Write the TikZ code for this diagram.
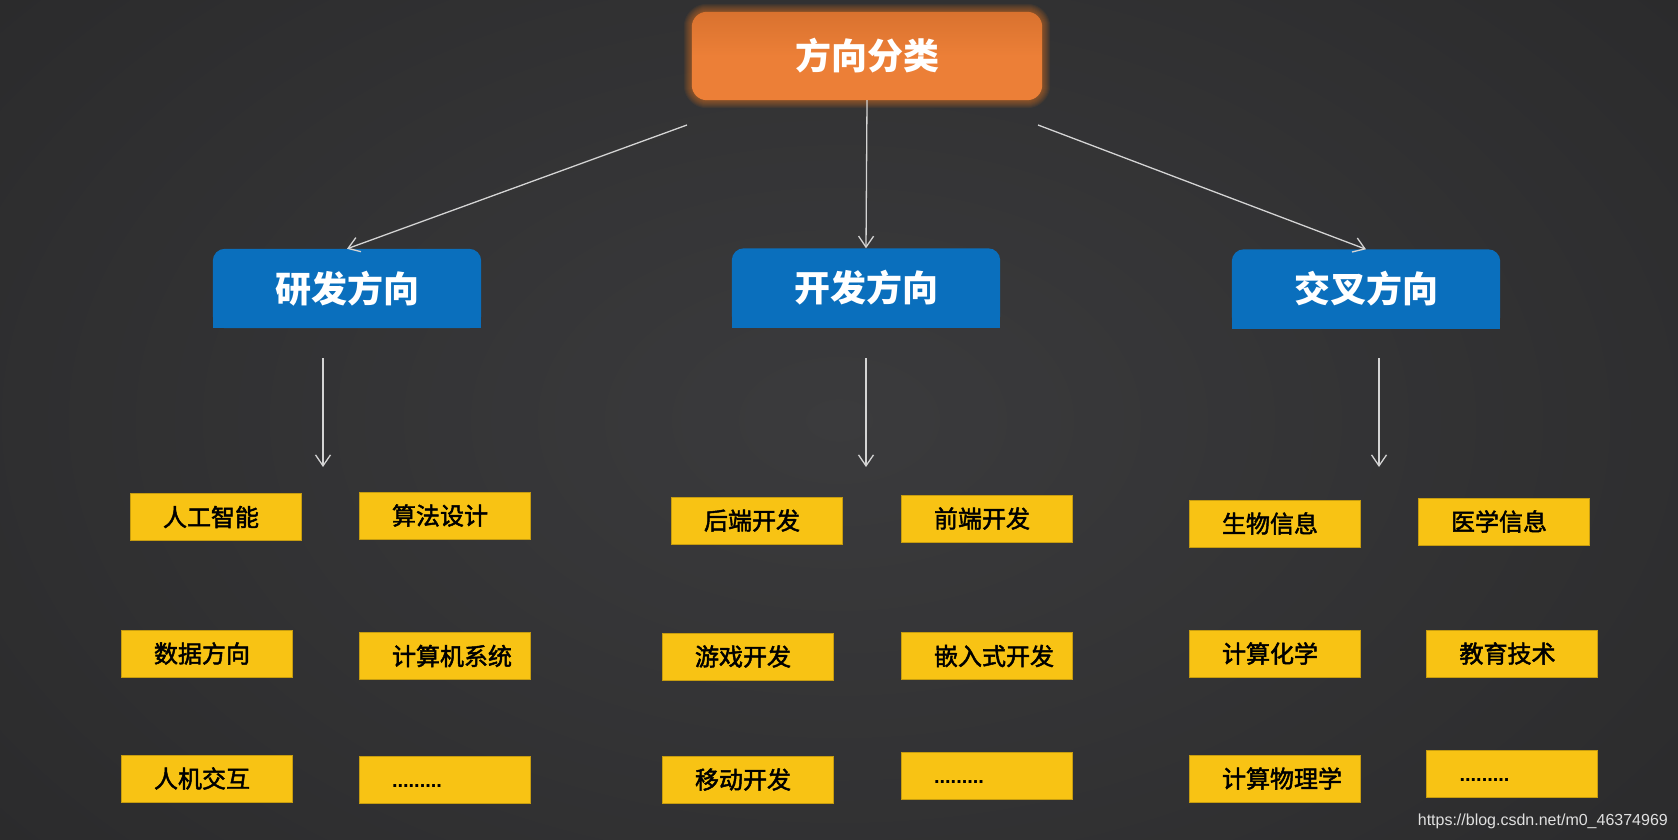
\documentclass[tikz,border=0pt]{standalone}
\usepackage{fontspec}
\setmainfont{Noto Sans CJK SC}
\newfontfamily\leaffont{Noto Sans CJK SC}[FakeBold=2]
\newfontfamily\wmfont{Liberation Sans}
\usetikzlibrary{arrows.meta,backgrounds}
\definecolor{bgA}{HTML}{3B3B3D}
\definecolor{bgB}{HTML}{2A2A2B}
\definecolor{orangeA}{HTML}{EC7F37}
\definecolor{orangeB}{HTML}{D9722F}
\definecolor{glowC}{HTML}{F07A20}
\definecolor{blueBox}{HTML}{0A6FBD}
\definecolor{yellowBox}{HTML}{F8C314}
\definecolor{lineGrey}{HTML}{D4D4D4}
\begin{document}
\begin{tikzpicture}[x=1pt,y=-1pt,
  topbox/.style={rectangle, minimum width=350pt, minimum height=88pt, inner sep=0pt, text=white, font=\fontsize{36}{40}\selectfont\bfseries},
  midbox/.style={rectangle, minimum width=268pt, minimum height=79pt, inner sep=0pt, text=white, font=\fontsize{36}{40}\selectfont\bfseries},
  leafbox/.style={rectangle, fill=yellowBox, draw=yellowBox!80!black, line width=0.8pt, minimum width=171pt, minimum height=47pt, inner sep=0pt, text width=150pt, align=left, font=\leaffont\fontsize{24}{28}\selectfont, text=black},
  conn/.style={draw=lineGrey, line width=1.3pt, -{Straight Barb[length=11pt,width=15pt]}},
]
\useasboundingbox (0,0) rectangle (1678,840);

% top node
\node[topbox] (t) at (867,56) {方向分类};
% middle nodes
\node[midbox] (b1) at (347,288.5) {研发方向};
\node[midbox] (b2) at (866,288) {开发方向};
\node[midbox] (b3) at (1366,289) {交叉方向};

% leaves
\newcommand{\lf}[1]{\hspace*{22.5pt}#1}
\newcommand{\dotsfill}{\hspace*{22.5pt}\raisebox{-7.5pt}[0pt][0pt]{\wmfont\bfseries\fontsize{20}{22}\selectfont .........}}
\node[leafbox] (y11) at (215.5,517) {\lf{人工智能}};
\node[leafbox] (y12) at (444.5,515.5) {\lf{算法设计}};
\node[leafbox] (y21) at (206.5,653.5) {\lf{数据方向}};
\node[leafbox] (y22) at (444.5,656) {\lf{计算机系统}};
\node[leafbox] (y31) at (206.5,778.5) {\lf{人机交互}};
\node[leafbox] (y32) at (444.5,779.5) {\dotsfill};

\node[leafbox] (m11) at (756.5,520.5) {\lf{后端开发}};
\node[leafbox] (m12) at (986.5,518.5) {\lf{前端开发}};
\node[leafbox] (m21) at (747.5,656.5) {\lf{游戏开发}};
\node[leafbox] (m22) at (986.5,656) {\lf{嵌入式开发}};
\node[leafbox] (m31) at (747.5,779.5) {\lf{移动开发}};
\node[leafbox] (m32) at (986.5,776) {\dotsfill};

\node[leafbox] (r11) at (1274.5,523.5) {\lf{生物信息}};
\node[leafbox] (r12) at (1503.5,521.5) {\lf{医学信息}};
\node[leafbox] (r21) at (1274.5,653.5) {\lf{计算化学}};
\node[leafbox] (r22) at (1512,653.5) {\lf{教育技术}};
\node[leafbox] (r31) at (1274.5,778.5) {\lf{计算物理学}};
\node[leafbox] (r32) at (1512,773.5) {\dotsfill};

% watermark
\node[anchor=east, text=white!88!black, font=\wmfont\fontsize{16}{18}\selectfont, inner sep=0pt] (wm) at (1668,821) {https://blog.csdn.net/m0\_46374969};

% connectors
\coordinate (a1s) at (687,125);
\coordinate (a3s) at (1038,125);
\draw[conn] (a1s) -- (b1.north);
\draw[conn] (t.south) -- (b2.north);
\draw[conn] (a3s) -- (b3.north);

\coordinate (d1s) at (323,358); \coordinate (d1e) at (323,467);
\coordinate (d2s) at (866,358); \coordinate (d2e) at (866,467);
\coordinate (d3s) at (1379,358); \coordinate (d3e) at (1379,467);
\draw[conn] (d1s) -- (d1e);
\draw[conn] (d2s) -- (d2e);
\draw[conn] (d3s) -- (d3e);

\begin{scope}[on background layer]
  \fill[bgB] (0,0) rectangle (1678,840);
  \shade[inner color=bgA, outer color=bgB] (-300,-300) rectangle (1978,1140);
  % glow around the top box
  \foreach \k in {1,...,8}{
    \fill[glowC, opacity=0.07, rounded corners={15pt+\k pt}]
      ([xshift=-\k pt, yshift=-\k pt]t.south west) rectangle ([xshift=\k pt, yshift=\k pt]t.north east);
  }
  \shade[top color=orangeB, bottom color=orangeA, middle color=orangeA, rounded corners=15pt] (t.south west) rectangle (t.north east);
  % blue boxes, top corners rounded
  \foreach \b in {b1,b2,b3}{
    \fill[blueBox, rounded corners=12pt] (\b.south west) rectangle (\b.north east);
    \fill[blueBox] (\b.south west) rectangle (\b.east);
  }
\end{scope}
\end{tikzpicture}
\end{document}
